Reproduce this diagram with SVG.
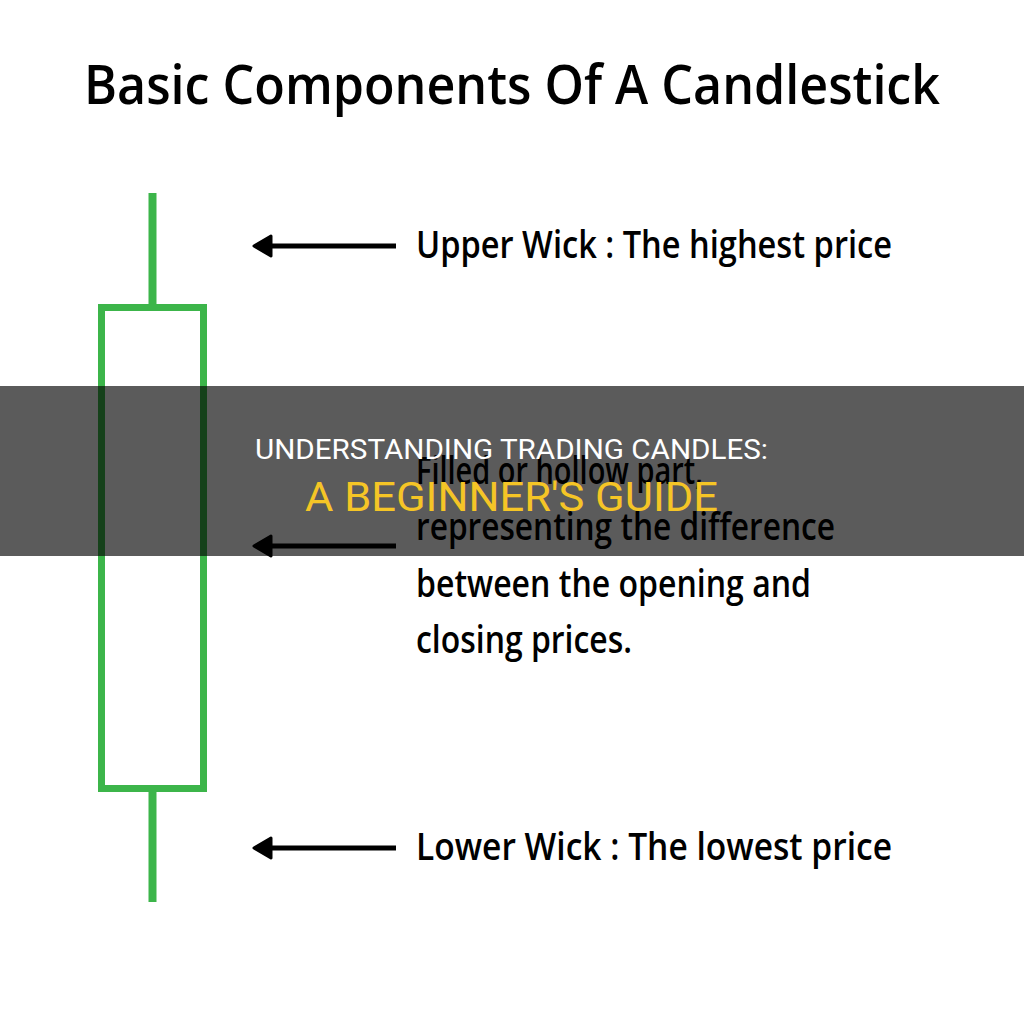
<svg xmlns="http://www.w3.org/2000/svg" width="1024" height="1024" viewBox="0 0 1024 1024">
<style>
.lbl{font-family:"Open Sans","DejaVu Sans",sans-serif;fill:#000;font-weight:600;}
.green{stroke:#3cb54a;fill:none;}
.arr{stroke:#000;stroke-width:5;fill:none;}
.band1{font-family:Roboto,"Liberation Sans",sans-serif;fill:#fff;font-size:28px;}
.band2{font-family:Roboto,"Liberation Sans",sans-serif;fill:#f5c526;font-size:40px;}
</style>
<defs>
<marker id="ah" markerUnits="userSpaceOnUse" markerWidth="28" markerHeight="28" refX="14" refY="13" orient="auto">
<path d="M24 13 L7 3 L7 23 Z" fill="#000" stroke="#000" stroke-width="3" stroke-linejoin="round"/>
</marker>
</defs>
<rect width="1024" height="1024" fill="#fff"/>
<g id="title"><text class="lbl" x="84" y="104" font-size="55" textLength="856" lengthAdjust="spacingAndGlyphs">Basic Components Of A Candlestick</text></g>
<g id="candle">
<line class="green" x1="152.5" y1="193" x2="152.5" y2="305" stroke-width="8"/>
<rect class="green" x="101.5" y="307.5" width="102" height="481" stroke-width="7"/>
<line class="green" x1="152.5" y1="791" x2="152.5" y2="902" stroke-width="8"/>
</g>
<g id="connectors">
<line class="arr" x1="396" y1="246" x2="264" y2="246" marker-end="url(#ah)"/>
<line class="arr" x1="396" y1="546" x2="264" y2="546" marker-end="url(#ah)"/>
<line class="arr" x1="396" y1="848" x2="264" y2="848" marker-end="url(#ah)"/>
</g>
<g id="upper-label"><text class="lbl" x="416" y="258" font-size="38" textLength="476" lengthAdjust="spacingAndGlyphs">Upper Wick : The highest price</text></g>
<g id="body-label" class="lbl" font-size="38">
<text x="416" y="484" textLength="287" lengthAdjust="spacingAndGlyphs">Filled or hollow part,</text>
<text x="416" y="540" textLength="419" lengthAdjust="spacingAndGlyphs">representing the difference</text>
<text x="416" y="597" textLength="395" lengthAdjust="spacingAndGlyphs">between the opening and</text>
<text x="416" y="653" textLength="216" lengthAdjust="spacingAndGlyphs">closing prices.</text>
</g>
<g id="lower-label"><text class="lbl" x="416" y="860" font-size="38" textLength="476" lengthAdjust="spacingAndGlyphs">Lower Wick : The lowest price</text></g>
<g id="banner">
<rect x="0" y="386" width="1024" height="170" fill="#000" fill-opacity="0.645"/>
<text class="band1" x="255" y="459" textLength="513" lengthAdjust="spacingAndGlyphs">UNDERSTANDING TRADING CANDLES:</text>
<text class="band2" x="305" y="511" textLength="413" lengthAdjust="spacingAndGlyphs">A BEGINNER'S GUIDE</text>
</g>
</svg>
